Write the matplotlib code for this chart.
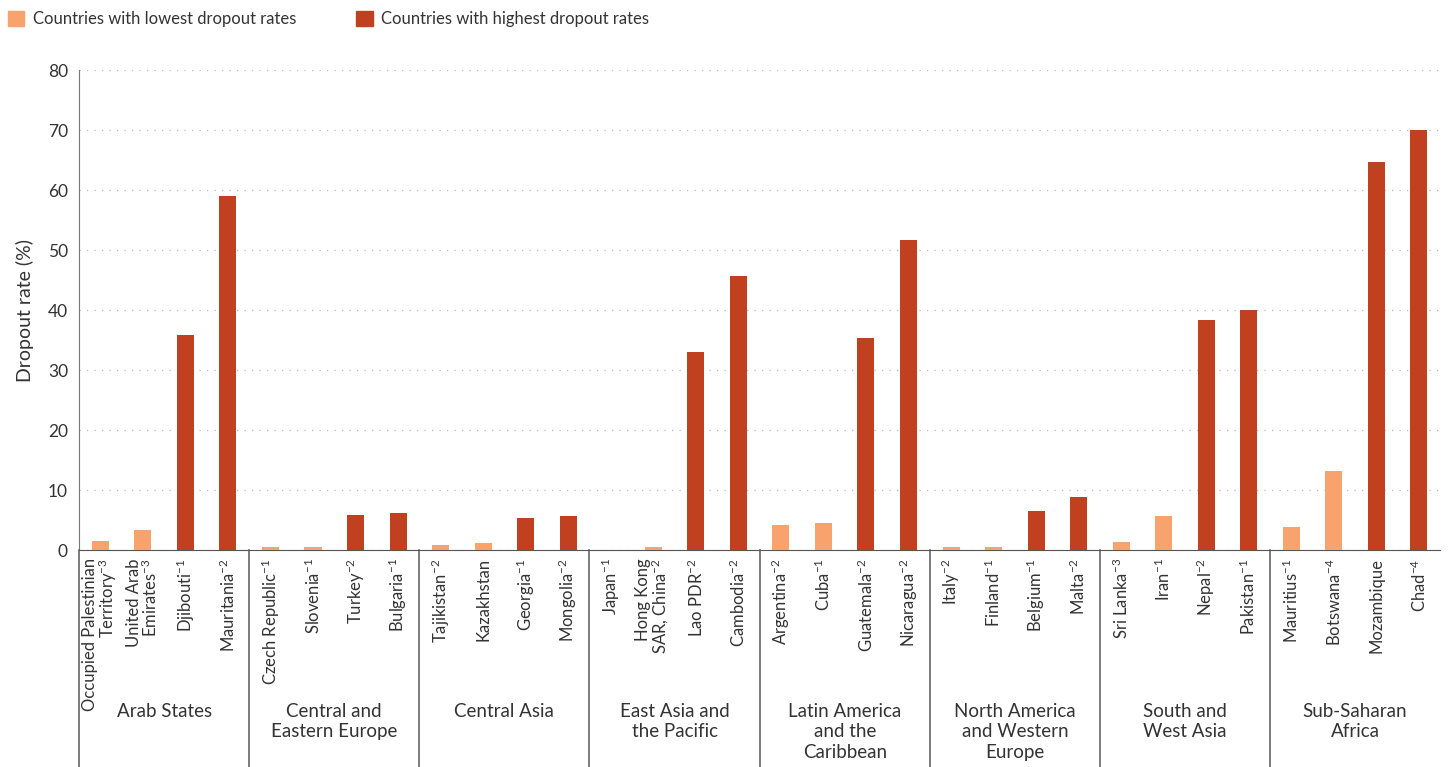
import matplotlib.pyplot as plt
from matplotlib.patches import Patch

plt.rcParams['font.family'] = ['Lato', 'DejaVu Sans']
plt.rcParams['mathtext.fontset'] = 'custom'
plt.rcParams['mathtext.rm'] = 'Lato'
plt.rcParams['mathtext.it'] = 'Lato'
plt.rcParams['mathtext.default'] = 'regular'

countries = ['Occupied Palestinian\nTerritory$^{-3}$', 'United Arab\nEmirates$^{-3}$', 'Djibouti$^{-1}$', 'Mauritania$^{-2}$',
             'Czech Republic$^{-1}$', 'Slovenia$^{-1}$', 'Turkey$^{-2}$', 'Bulgaria$^{-1}$',
             'Tajikistan$^{-2}$', 'Kazakhstan', 'Georgia$^{-1}$', 'Mongolia$^{-2}$',
             'Japan$^{-1}$', 'Hong Kong\nSAR, China$^{-2}$', 'Lao PDR$^{-2}$', 'Cambodia$^{-2}$',
             'Argentina$^{-2}$', 'Cuba$^{-1}$', 'Guatemala$^{-2}$', 'Nicaragua$^{-2}$',
             'Italy$^{-2}$', 'Finland$^{-1}$', 'Belgium$^{-1}$', 'Malta$^{-2}$',
             'Sri Lanka$^{-3}$', 'Iran$^{-1}$', 'Nepal$^{-2}$', 'Pakistan$^{-1}$',
             'Mauritius$^{-1}$', 'Botswana$^{-4}$', 'Mozambique', 'Chad$^{-4}$']
rates = [1.5, 3.3, 35.8, 59.0,
         0.5, 0.5, 5.8, 6.2,
         0.8, 1.2, 5.4, 5.7,
         0.0, 0.5, 33.0, 45.7,
         4.2, 4.5, 35.3, 51.7,
         0.5, 0.5, 6.5, 8.8,
         1.3, 5.7, 38.3, 40.0,
         3.8, 13.2, 64.7, 70.0]
# 'low' = among lowest dropout rates in region, 'high' = among highest
kind = ['low', 'low', 'high', 'high'] * 8
regions = ['Arab States', 'Central and\nEastern Europe', 'Central Asia', 'East Asia and\nthe Pacific',
           'Latin America\nand the\nCaribbean', 'North America\nand Western\nEurope', 'South and\nWest Asia',
           'Sub-Saharan\nAfrica']

light = '#F8A26D'
dark = '#C1401F'
txt = '#333333'

fig = plt.figure(figsize=(14.48, 7.67), dpi=100)
ax = fig.add_axes([0.0546, 0.2829, 0.94, 0.6258])

x = list(range(len(countries)))
colors = [light if k == 'low' else dark for k in kind]
ax.bar(x, rates, width=0.4, color=colors, zorder=3)

ax.set_xlim(-0.5, len(countries) - 0.5)
ax.set_ylim(0, 80)
ax.set_yticks(range(0, 81, 10))
ax.yaxis.grid(True, linestyle=(0, (1, 5)), color='#bbbbbb', linewidth=0.9)
ax.tick_params(axis='y', length=0, labelsize=12.5, labelcolor=txt, pad=8)
ax.set_ylabel('Dropout rate (%)', fontsize=14, color=txt, labelpad=10)

ax.set_xticks(x)
ax.set_xticklabels(countries, rotation=90, ha='center', va='top', multialignment='right',
                   fontsize=12, color=txt, linespacing=0.95)
ax.tick_params(axis='x', length=0, pad=6)

for s in ['top', 'right']:
    ax.spines[s].set_visible(False)
ax.spines['left'].set_color('#777777')
ax.spines['bottom'].set_color('#555555')

# group separators and region names
for g in range(8):
    ax.plot([g * 4 - 0.5, g * 4 - 0.5], [0, -0.46], transform=ax.get_xaxis_transform(),
            color='#666666', linewidth=1.2, clip_on=False)
    ax.text(g * 4 + 1.5, -0.318, regions[g], transform=ax.get_xaxis_transform(),
            ha='center', va='top', fontsize=13.5, color=txt, linespacing=1.27)

handles = [Patch(color=light, label='Countries with lowest dropout rates'),
           Patch(color=dark, label='Countries with highest dropout rates')]
fig.legend(handles=handles, loc='upper left', bbox_to_anchor=(-0.004, 1.003), ncol=2, frameon=False,
           fontsize=12, handlelength=1.0, handleheight=1.0, columnspacing=3.6, handletextpad=0.5,
           labelcolor=txt, borderaxespad=0.4)

fig.savefig('out.png', dpi=100)
